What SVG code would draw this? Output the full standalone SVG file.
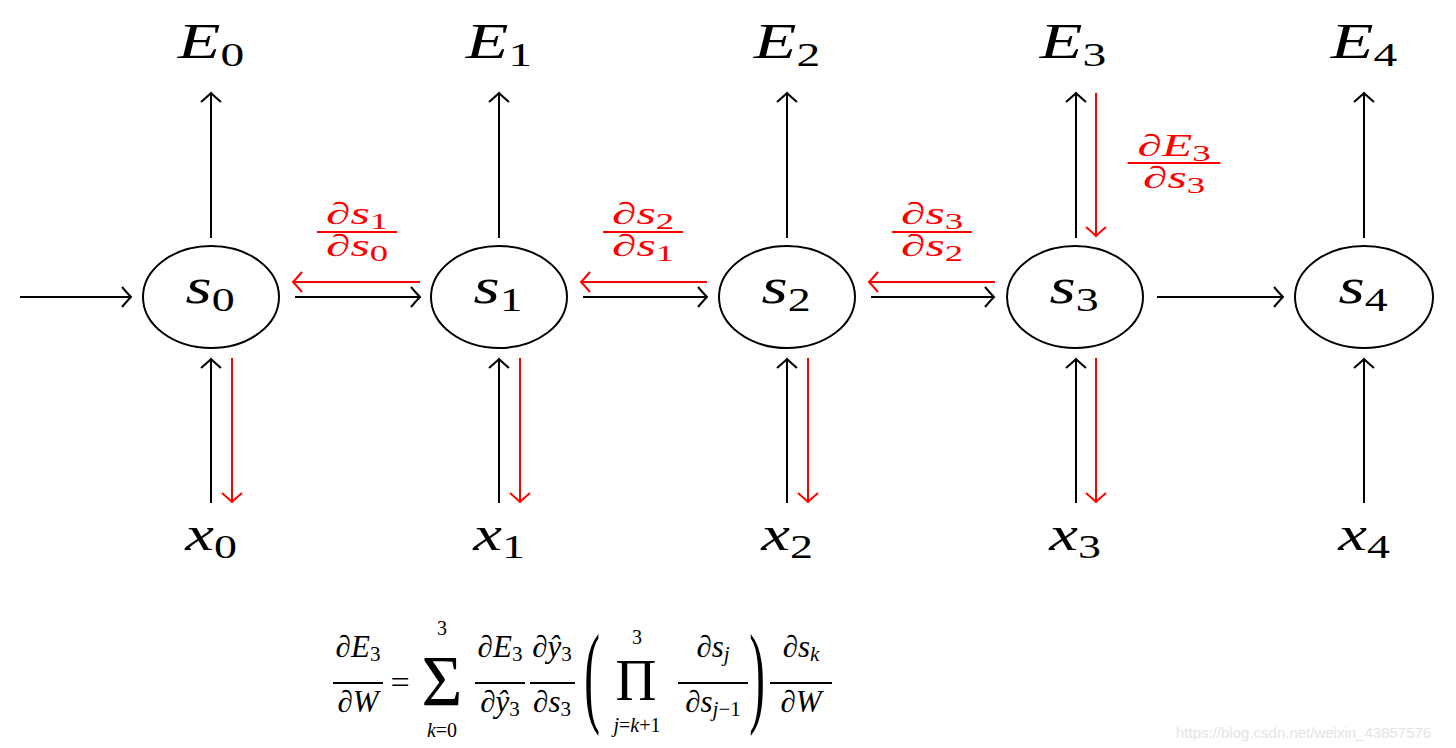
<svg xmlns="http://www.w3.org/2000/svg" width="1456" height="748" viewBox="0 0 1456 748" font-family="'Liberation Serif','Times New Roman',serif">
<style>
text{font-family:"Liberation Serif","Times New Roman",serif;fill:#000}
.it{font-style:italic}
.red text{fill:#f00}
.node ellipse{fill:#fff;stroke:#000;stroke-width:2}
.bl{stroke:#000;stroke-width:2;fill:none}
.rd{stroke:#f00;stroke-width:2;fill:none}
.bl.a{marker-end:url(#ah)}
.rd.a{marker-end:url(#ahr)}
.wm{font-family:"Liberation Sans",Arial,sans-serif;fill:#e4e4e4;font-size:15px}
</style>
<defs>
<marker id="ah" viewBox="-12 -12 14 24" refX="0" refY="0" markerWidth="14" markerHeight="24" markerUnits="userSpaceOnUse" orient="auto"><path d="M-9,-10 Q-3,-3 0,0 Q-3,3 -9,10" fill="none" stroke="#000" stroke-width="2"/></marker>
<marker id="ahr" viewBox="-12 -12 14 24" refX="0" refY="0" markerWidth="14" markerHeight="24" markerUnits="userSpaceOnUse" orient="auto"><path d="M-9,-10 Q-3,-3 0,0 Q-3,3 -9,10" fill="none" stroke="#f00" stroke-width="2"/></marker>
</defs>
<rect width="1456" height="748" fill="#fff"/>

<g id="connectors">
<line class="bl a" x1="20" y1="297" x2="131" y2="297"/>
<line class="bl a" x1="295" y1="297" x2="420" y2="297"/>
<line class="bl a" x1="583" y1="297" x2="707" y2="297"/>
<line class="bl a" x1="871" y1="297" x2="994" y2="297"/>
<line class="bl a" x1="1157" y1="297" x2="1283" y2="297"/>
<line class="rd a" x1="420" y1="282" x2="293" y2="282"/>
<line class="rd a" x1="707" y1="282" x2="581" y2="282"/>
<line class="rd a" x1="995" y1="282" x2="869" y2="282"/>
<line class="bl a" x1="211" y1="238" x2="211" y2="93"/>
<line class="bl a" x1="499" y1="238" x2="499" y2="93"/>
<line class="bl a" x1="787" y1="238" x2="787" y2="93"/>
<line class="bl a" x1="1076" y1="238" x2="1076" y2="93"/>
<line class="bl a" x1="1364" y1="238" x2="1364" y2="93"/>
<line class="rd a" x1="1096" y1="93" x2="1096" y2="236"/>
<line class="bl a" x1="211" y1="503" x2="211" y2="359"/>
<line class="bl a" x1="499" y1="503" x2="499" y2="359"/>
<line class="bl a" x1="787" y1="503" x2="787" y2="359"/>
<line class="bl a" x1="1076" y1="503" x2="1076" y2="359"/>
<line class="bl a" x1="1364" y1="503" x2="1364" y2="359"/>
<line class="rd a" x1="232" y1="358" x2="232" y2="502"/>
<line class="rd a" x1="520" y1="358" x2="520" y2="502"/>
<line class="rd a" x1="808" y1="358" x2="808" y2="502"/>
<line class="rd a" x1="1096" y1="358" x2="1096" y2="502"/>
</g>

<g id="s0" class="node"><ellipse cx="211" cy="297" rx="68" ry="51"/><g transform="translate(210,303) scale(1.35,1)"><text text-anchor="middle" font-size="50"><tspan class="it">s</tspan><tspan font-size="34" dy="8">0</tspan></text></g></g>
<g id="s1" class="node"><ellipse cx="499" cy="297" rx="68" ry="51"/><g transform="translate(498,303) scale(1.35,1)"><text text-anchor="middle" font-size="50"><tspan class="it">s</tspan><tspan font-size="34" dy="8">1</tspan></text></g></g>
<g id="s2" class="node"><ellipse cx="787" cy="297" rx="68" ry="51"/><g transform="translate(786,303) scale(1.35,1)"><text text-anchor="middle" font-size="50"><tspan class="it">s</tspan><tspan font-size="34" dy="8">2</tspan></text></g></g>
<g id="s3" class="node"><ellipse cx="1075" cy="297" rx="68" ry="51"/><g transform="translate(1074,303) scale(1.35,1)"><text text-anchor="middle" font-size="50"><tspan class="it">s</tspan><tspan font-size="34" dy="8">3</tspan></text></g></g>
<g id="s4" class="node"><ellipse cx="1364" cy="297" rx="69" ry="51"/><g transform="translate(1363,303) scale(1.35,1)"><text text-anchor="middle" font-size="50"><tspan class="it">s</tspan><tspan font-size="34" dy="8">4</tspan></text></g></g>

<g id="E0" transform="translate(211,58) scale(1.4,1)"><text text-anchor="middle" font-size="50"><tspan class="it">E</tspan><tspan font-size="34" dy="8">0</tspan></text></g>
<g id="E1" transform="translate(499,58) scale(1.4,1)"><text text-anchor="middle" font-size="50"><tspan class="it">E</tspan><tspan font-size="34" dy="8">1</tspan></text></g>
<g id="E2" transform="translate(787,58) scale(1.4,1)"><text text-anchor="middle" font-size="50"><tspan class="it">E</tspan><tspan font-size="34" dy="8">2</tspan></text></g>
<g id="E3" transform="translate(1073,58) scale(1.4,1)"><text text-anchor="middle" font-size="50"><tspan class="it">E</tspan><tspan font-size="34" dy="8">3</tspan></text></g>
<g id="E4" transform="translate(1364,58) scale(1.4,1)"><text text-anchor="middle" font-size="50"><tspan class="it">E</tspan><tspan font-size="34" dy="8">4</tspan></text></g>

<g id="x0" transform="translate(211,550) scale(1.35,1)"><text text-anchor="middle" font-size="48"><tspan class="it">x</tspan><tspan font-size="34" dy="8">0</tspan></text></g>
<g id="x1" transform="translate(499,550) scale(1.35,1)"><text text-anchor="middle" font-size="48"><tspan class="it">x</tspan><tspan font-size="34" dy="8">1</tspan></text></g>
<g id="x2" transform="translate(787,550) scale(1.35,1)"><text text-anchor="middle" font-size="48"><tspan class="it">x</tspan><tspan font-size="34" dy="8">2</tspan></text></g>
<g id="x3" transform="translate(1075,550) scale(1.35,1)"><text text-anchor="middle" font-size="48"><tspan class="it">x</tspan><tspan font-size="34" dy="8">3</tspan></text></g>
<g id="x4" transform="translate(1364,550) scale(1.35,1)"><text text-anchor="middle" font-size="48"><tspan class="it">x</tspan><tspan font-size="34" dy="8">4</tspan></text></g>

<g id="d10" class="red" transform="translate(357,0) scale(1.6,1)">
<text text-anchor="middle" y="224" font-size="31">∂<tspan class="it">s</tspan><tspan font-size="23" dy="5">1</tspan></text>
<line class="rd" x1="-25" y1="232" x2="25" y2="232"/>
<text text-anchor="middle" y="256" font-size="31">∂<tspan class="it">s</tspan><tspan font-size="23" dy="5">0</tspan></text>
</g>
<g id="d21" class="red" transform="translate(643,0) scale(1.6,1)">
<text text-anchor="middle" y="224" font-size="31">∂<tspan class="it">s</tspan><tspan font-size="23" dy="5">2</tspan></text>
<line class="rd" x1="-25" y1="232" x2="25" y2="232"/>
<text text-anchor="middle" y="256" font-size="31">∂<tspan class="it">s</tspan><tspan font-size="23" dy="5">1</tspan></text>
</g>
<g id="d32" class="red" transform="translate(932,0) scale(1.6,1)">
<text text-anchor="middle" y="224" font-size="31">∂<tspan class="it">s</tspan><tspan font-size="23" dy="5">3</tspan></text>
<line class="rd" x1="-25" y1="232" x2="25" y2="232"/>
<text text-anchor="middle" y="256" font-size="31">∂<tspan class="it">s</tspan><tspan font-size="23" dy="5">2</tspan></text>
</g>
<g id="dE3" class="red" transform="translate(1174,0) scale(1.6,1)">
<text text-anchor="middle" y="156" font-size="31">∂<tspan class="it">E</tspan><tspan font-size="23" dy="5">3</tspan></text>
<line class="rd" x1="-29" y1="163" x2="29" y2="163"/>
<text text-anchor="middle" y="188" font-size="31">∂<tspan class="it">s</tspan><tspan font-size="23" dy="5">3</tspan></text>
</g>

<g id="formula" font-size="31">
<text x="358" y="657" text-anchor="middle" font-size="31">∂<tspan class="it">E</tspan><tspan font-size="21" dy="4">3</tspan></text>
<line class="bl" x1="333" y1="683" x2="383" y2="683"/>
<text x="358" y="712" text-anchor="middle" font-size="31">∂<tspan class="it">W</tspan></text>
<g transform="translate(400,693) scale(1.1,1)"><text text-anchor="middle" font-size="31">=</text></g>
<g transform="translate(442,705) scale(1.3,1.35)"><text text-anchor="middle" font-size="54">Σ</text></g>
<text x="442" y="635" text-anchor="middle" font-size="20">3</text>
<text x="442" y="737" text-anchor="middle" font-size="20"><tspan class="it">k</tspan>=0</text>
<text x="500" y="657" text-anchor="middle" font-size="31">∂<tspan class="it">E</tspan><tspan font-size="21" dy="4">3</tspan></text>
<line class="bl" x1="475" y1="683" x2="525" y2="683"/>
<text x="500" y="712" text-anchor="middle" font-size="31">∂<tspan class="it">ŷ</tspan><tspan font-size="21" dy="4">3</tspan></text>
<text x="552" y="657" text-anchor="middle" font-size="31">∂<tspan class="it">ŷ</tspan><tspan font-size="21" dy="4">3</tspan></text>
<line class="bl" x1="530" y1="683" x2="575" y2="683"/>
<text x="552" y="712" text-anchor="middle" font-size="31">∂<tspan class="it">s</tspan><tspan font-size="21" dy="4">3</tspan></text>
<g transform="translate(592,712) scale(0.42,1)"><text text-anchor="middle" font-size="112">(</text></g>
<g transform="translate(636,700) scale(1.05,1.1)"><text text-anchor="middle" font-size="54">Π</text></g>
<text x="637" y="644" text-anchor="middle" font-size="20">3</text>
<text x="637" y="732" text-anchor="middle" font-size="20"><tspan class="it">j</tspan>=<tspan class="it">k</tspan>+1</text>
<text x="713" y="657" text-anchor="middle" font-size="31">∂<tspan class="it">s</tspan><tspan font-size="21" dy="4" class="it">j</tspan></text>
<line class="bl" x1="678" y1="683" x2="748" y2="683"/>
<text x="713" y="712" text-anchor="middle" font-size="31">∂<tspan class="it">s</tspan><tspan font-size="21" dy="4"><tspan class="it">j</tspan>−1</tspan></text>
<g transform="translate(757,712) scale(0.42,1)"><text text-anchor="middle" font-size="112">)</text></g>
<text x="801" y="657" text-anchor="middle" font-size="31">∂<tspan class="it">s</tspan><tspan font-size="21" dy="4" class="it">k</tspan></text>
<line class="bl" x1="770" y1="683" x2="832" y2="683"/>
<text x="801" y="712" text-anchor="middle" font-size="31">∂<tspan class="it">W</tspan></text>
</g>

<text class="wm" x="1176" y="738">https://blog.csdn.net/weixin_43857576</text>
</svg>
